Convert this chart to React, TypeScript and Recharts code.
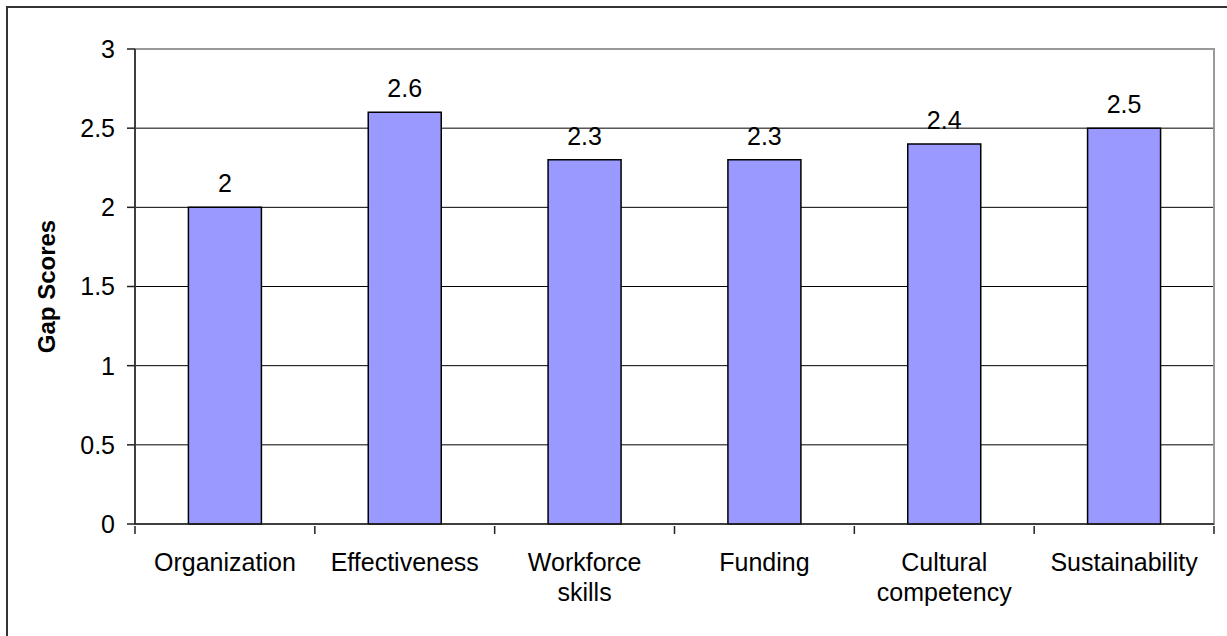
import React from 'react'
import { BarChart, Bar, XAxis, YAxis, CartesianGrid, LabelList, Label, ReferenceArea } from 'recharts'

const categories = ['Organization', 'Effectiveness', 'Workforce\nskills', 'Funding', 'Cultural\ncompetency', 'Sustainability']
const gapScores = [2, 2.6, 2.3, 2.3, 2.4, 2.5]
const yTicks = [0, 0.5, 1, 1.5, 2, 2.5, 3]

const data = categories.map((name, i) => ({ name, score: gapScores[i] }))

const FONT = 'Arial, "Liberation Sans", sans-serif'

function CategoryTick(props: any) {
  const { x, y, payload, index } = props
  const half = payload.offset ?? 0
  const lines = String(payload.value).split('\n')
  return (
    <g>
      <line x1={x - half} x2={x - half} y1={y - 8} y2={y} stroke="#222" strokeWidth={1.5} />
      {index === categories.length - 1 && (
        <line x1={x + half} x2={x + half} y1={y - 8} y2={y} stroke="#222" strokeWidth={1.5} />
      )}
      <text x={x} y={y + 37} textAnchor="middle" fontSize={25} fontFamily={FONT} fill="#000">
        {lines.map((l, i) => (
          <tspan key={i} x={x} dy={i === 0 ? 0 : 30}>{l}</tspan>
        ))}
      </text>
    </g>
  )
}

export default function App() {
  return (
    <div style={{ position: 'absolute', left: 0, top: 0, width: 1227, height: 636, background: '#fff', overflow: 'hidden' }}>
      <div style={{ position: 'absolute', left: 6, top: 6, width: 1300, height: 700, borderTop: '2px solid #333', borderLeft: '2px solid #333' }} />
      <BarChart
        width={1227}
        height={636}
        data={data}
        margin={{ top: 49, right: 13, left: 0, bottom: 12 }}
        barCategoryGap="29.7%"
        style={{ position: 'absolute', left: 0, top: 0 }}
      >
        <CartesianGrid vertical={false} stroke="#000" />
        <ReferenceArea y1={0} y2={3} fill="none" stroke="#999" strokeWidth={2} />
        <XAxis
          dataKey="name"
          height={100}
          interval={0}
          tickLine={false}
          tickSize={8}
          axisLine={{ stroke: '#222', strokeWidth: 1.5 }}
          tick={<CategoryTick />}
        />
        <YAxis
          width={135}
          domain={[0, 3]}
          ticks={yTicks}
          interval={0}
          tickSize={8}
          tickMargin={12}
          tickLine={{ stroke: '#222', strokeWidth: 1.5 }}
          axisLine={{ stroke: '#222', strokeWidth: 1.5 }}
          tick={{ fontSize: 25, fontFamily: FONT, fill: '#000' }}
        >
          <Label
            content={(p: any) => {
              const vb = p.viewBox || { x: 0, y: 49, height: 475 }
              const cx = 55
              const cy = vb.y + vb.height / 2
              return (
                <text x={cx} y={cy} transform={`rotate(-90, ${cx}, ${cy})`} textAnchor="middle" fontSize={24} fontWeight="bold" fontFamily={FONT} fill="#000">
                  Gap Scores
                </text>
              )
            }}
          />
        </YAxis>
        <Bar dataKey="score" fill="#9999FF" stroke="#000" strokeWidth={1.5} isAnimationActive={false}>
          <LabelList dataKey="score" position="top" offset={15} fontSize={25} fontFamily={FONT} fill="#000" />
        </Bar>
      </BarChart>
    </div>
  )
}
